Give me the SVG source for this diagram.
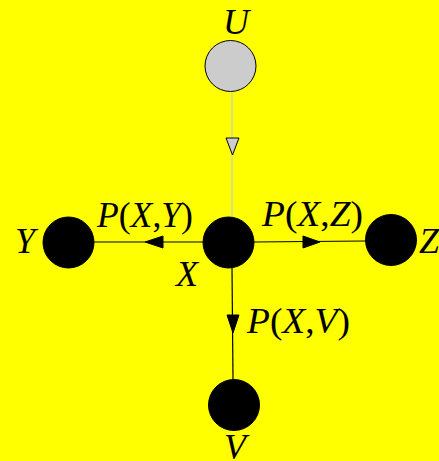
<svg xmlns="http://www.w3.org/2000/svg" width="439" height="461" viewBox="0 0 439 461">
<style>
.bg{fill:#ffff00}
.node{fill:#000;stroke:#000;stroke-width:1}
.obs{fill:#cccccc;stroke:#000;stroke-width:1}
.edge{stroke:#000;stroke-width:1.2;fill:none}
.edge2{stroke:#cccccc;stroke-width:1.2;fill:none}
.ah{fill:#000;stroke:#000;stroke-width:1}
.ah2{fill:#cccccc;stroke:#000;stroke-width:1}
text{font-family:"Liberation Serif","Times New Roman",serif;fill:#000}
.nl{font-size:36px;font-style:italic}
.el{font-size:35px}
.i{font-style:italic}
</style>
<rect class="bg" x="0" y="0" width="439" height="461"/>
<g id="connectors">
<line class="edge2" x1="232" y1="91" x2="232" y2="217"/>
<polygon class="ah2" points="226,138 239,138 232.5,155"/>
<line class="edge" x1="203" y1="242" x2="94" y2="242"/>
<polygon class="ah" points="145,242 163,236 163,248"/>
<line class="edge" x1="254" y1="242" x2="365" y2="241"/>
<polygon class="ah" points="320,242 303,236 303,248"/>
<line class="edge" x1="232" y1="268" x2="233" y2="379"/>
<polygon class="ah" points="233,333 227,315 239,315"/>
<text class="el" x="97" y="227" textLength="96" lengthAdjust="spacingAndGlyphs"><tspan class="i">P</tspan>(<tspan class="i">X</tspan>,<tspan class="i">Y</tspan>)</text>
<text class="el" x="262" y="226" textLength="101" lengthAdjust="spacingAndGlyphs"><tspan class="i">P</tspan>(<tspan class="i">X</tspan>,<tspan class="i">Z</tspan>)</text>
<text class="el" x="247" y="333" textLength="103" lengthAdjust="spacingAndGlyphs"><tspan class="i">P</tspan>(<tspan class="i">X</tspan>,<tspan class="i">V</tspan>)</text>
</g>
<g id="U">
<circle class="obs" cx="230.5" cy="66" r="25.5"/>
<text class="nl" x="236" y="34" text-anchor="middle">U</text>
</g>
<g id="X">
<circle class="node" cx="228.5" cy="242.5" r="25.5"/>
<text class="nl" x="176" y="286">X</text>
</g>
<g id="Y">
<circle class="node" cx="68.5" cy="242.5" r="25.5"/>
<text class="nl" x="15" y="253">Y</text>
</g>
<g id="Z">
<circle class="node" cx="391" cy="240" r="25.5"/>
<text class="nl" x="419" y="253">Z</text>
</g>
<g id="V">
<circle class="node" cx="234" cy="405" r="25.5"/>
<text class="nl" x="224" y="459">V</text>
</g>
</svg>
